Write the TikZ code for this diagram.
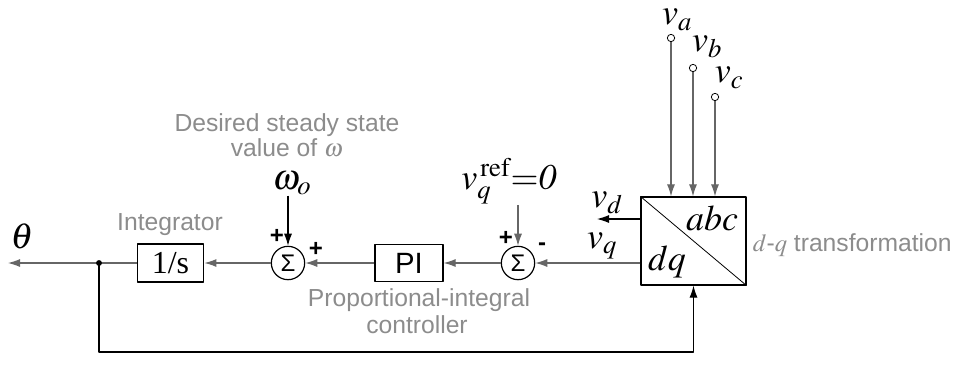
\documentclass[tikz,border=0pt]{standalone}
\usepackage{mathptmx}
\usepackage[no-math]{fontspec}
\setmainfont{Liberation Serif}
\setsansfont{Liberation Sans}
\usetikzlibrary{arrows.meta}
\begin{document}
\begin{tikzpicture}[x=0.75pt, y=-0.75pt, line join=round, >={Latex[length=9pt,width=6pt]},
	wire/.style={draw=black!60, line width=0.8pt},
	blk/.style={draw, line width=0.9pt, minimum width=50pt, minimum height=28.5pt, inner sep=0pt},
	sumnode/.style={circle, draw, line width=0.9pt, minimum size=25pt, inner sep=0pt, font=\sffamily\fontsize{18}{18}\selectfont},
	note/.style={text=black!45, inner sep=0.5pt, font=\sffamily\fontsize{18.5}{22}\selectfont},
	sig/.style={inner sep=0.5pt, font=\fontsize{27}{29}\selectfont},
	sgn/.style={inner sep=0.5pt, font=\sffamily\bfseries\fontsize{18}{18}\selectfont},
	port/.style={circle, draw, fill=white, inner sep=0pt, minimum size=5.5pt, line width=0.6pt}]
	\useasboundingbox (0,0) rectangle (964,383);
	% blocks
	\node[blk, font=\fontsize{24}{24}\selectfont] (int) at (170.5,263) {1/s};
	\node[sumnode] (s1) at (288,263) {Σ};
	\node[blk, minimum width=51pt, minimum height=28pt, font=\sffamily\fontsize{22}{22}\selectfont] (pi) at (409,263) {PI};
	\node[sumnode] (s2) at (518,263) {Σ};
	\node[draw, line width=0.9pt, minimum width=78.75pt, minimum height=66pt, inner sep=0pt] (tf) at (693.5,241) {};
	\draw[line width=0.6pt] (tf.north west) -- (tf.south east);
	\node[sig] (abc) at (712,218) {$abc$};
	\node[sig] (dq) at (667,262) {$dq$};
	% inputs
	\node[port] (pa) at (671,38) {};
	\node[port] (pb) at (693,68) {};
	\node[port] (pc) at (715,97) {};
	\node[sig] (la) at (677,20) {$v_a$};
	\node[sig] (lb) at (707,47) {$v_b$};
	\node[sig] (lc) at (729,78) {$v_c$};
	\draw[->, wire] (pa) -- (pa |- tf.north);
	\draw[->, wire] (pb) -- (pb |- tf.north);
	\draw[->, wire] (pc) -- (pc |- tf.north);
	\node[sig] (wo) at (292,183) {$\omega_o$};
	\node[sig] (vref) at (509,181) {$v_q^{\,\mathrm{ref}}{=}\mathit{0}$};
	\node[sig] (vd) at (607,203) {$v_d$};
	\node[sig] (vq) at (602,246) {$v_q$};
	\node[sig] (th) at (22,236) {$\theta$};
	\coordinate (vdend) at (597,219);
	\coordinate (out) at (8,263);
	\coordinate (jn) at (99,263);
	\coordinate (bot) at (99,352);
	% signal path
	\draw[->, wire] (tf.west |- s2) -- (s2.east);
	\draw[->, wire] (s2.west) -- (pi.east);
	\draw[->, wire] (pi.west) -- (s1.east);
	\draw[->, wire] (s1.west) -- (int.east);
	\draw[->, wire] (int.west) -- (out);
	\draw[->, line width=0.8pt] (tf.west |- vdend) -- (vdend);
	\draw[->, line width=0.8pt] (s1 |- wo.south) -- (s1.north);
	\draw[->, wire] (s2 |- vref.south) -- (s2.north);
	\draw[->, line width=0.8pt] (jn) -- (bot) -| (tf.south);
	\fill (jn) circle (2.2pt);
	% signs
	\node[sgn] (p1) at (277,236) {+};
	\node[sgn] (p2) at (316,249) {+};
	\node[sgn] (p3) at (506,238) {+};
	\node[sgn] (m1) at (542,247) {-};
	% notes
	\node[note] (n1) at (287,125) {Desired steady state};
	\node[note] (n2) at (287,148) {value of $\omega$};
	\node[note] (n3) at (170,225) {Integrator};
	\node[note] (n4) at (419,300) {Proportional-integral};
	\node[note] (n5) at (417,325) {controller};
	\node[note, anchor=west] (n6) at (752,245) {$d$-$q$ transformation};
\end{tikzpicture}
\end{document}
